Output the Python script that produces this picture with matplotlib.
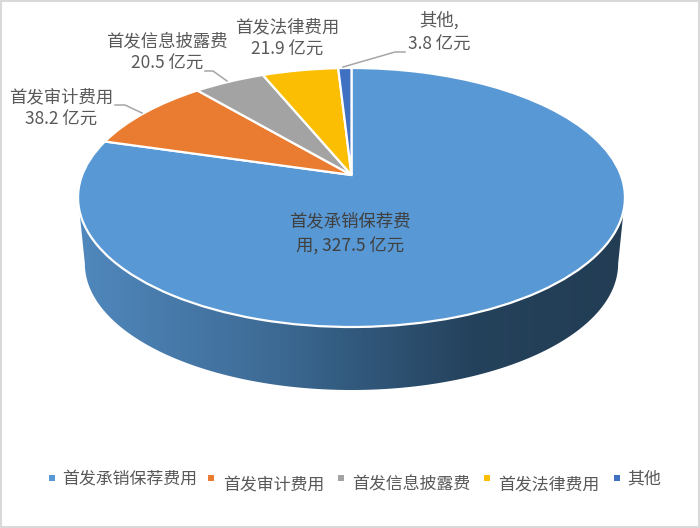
import numpy as np
import matplotlib
matplotlib.use("Agg")
import matplotlib.pyplot as plt
from matplotlib.colors import LinearSegmentedColormap
from matplotlib.patches import Polygon, Rectangle
from matplotlib.transforms import Transform

plt.rcParams['font.family'] = ['Noto Sans CJK SC', 'DejaVu Sans']

names = ['首发承销保荐费用', '首发审计费用', '首发信息披露费', '首发法律费用', '其他']
values = [327.5, 38.2, 20.5, 21.9, 3.8]
colors = ['#5898D4', '#E97C30', '#A3A3A3', '#FCBE02', '#4070C2']
unit = '亿元'

TEXT = '#595959'
LINE = '#A6A6A6'


class PiePerspective(Transform):
    # tilted disc: unit circle -> pixels, the far edge comes out smaller
    input_dims = 2
    output_dims = 2
    is_separable = False

    def __init__(self, cx=351.5, cy=175, a=269.3, b=125.6, k=0.1737, scale=1.0, drop=0):
        super().__init__()
        self.cx, self.cy, self.a, self.b, self.k = cx, cy, a, b, k
        self.scale, self.drop = scale, drop

    def transform_non_affine(self, values):
        u, v = values[:, 0], values[:, 1]
        w = 1 + self.k * v
        x = self.cx + self.scale * self.a * u / w
        y = self.cy + self.drop - self.scale * self.b * v / w
        return np.column_stack([x, y])


fig = plt.figure(figsize=(7, 5.28), dpi=100)
ax = fig.add_axes([0, 0, 1, 1])

top = PiePerspective()
bottom = PiePerspective(scale=0.975, drop=66.8)

# side wall, left extreme round the front to the right extreme
k = top.k
start = np.arctan2(-k, -np.sqrt(1 - k ** 2))
end = np.arctan2(-k, np.sqrt(1 - k ** 2))
t = np.linspace(start, end, 200)
rim = np.column_stack([np.cos(t), np.sin(t)])
outline = np.vstack([top.transform_non_affine(rim),
                     bottom.transform_non_affine(rim)[::-1]])

stops = [(0.0, '#5088BD'), (0.33, '#3F6D98'), (0.5, '#325A7E'),
         (0.72, '#25425C'), (1.0, '#223D54')]
wall_cmap = LinearSegmentedColormap.from_list('wall', stops)
img = ax.imshow(np.linspace(0, 1, 256).reshape(1, -1), cmap=wall_cmap, aspect='auto',
                extent=(78, 625, 395, 190), zorder=1)
wall = Polygon(outline, closed=True, transform=ax.transData, facecolor='none', edgecolor='none')
ax.add_patch(wall)
img.set_clip_path(wall)

wedges, _ = ax.pie(values, colors=colors, startangle=90, counterclock=False,
                   wedgeprops={'edgecolor': 'white', 'linewidth': 1.6})
for w in wedges:
    w.set_transform(top + ax.transData)
    w.set_zorder(2)

ax.set_aspect('auto')
ax.set_xlim(0, 700)
ax.set_ylim(528, 0)
ax.set_axis_off()

# data labels
ax.text(350, 234, f'首发承销保荐费\n用, {values[0]} {unit}', fontsize=12.5, color='#404040',
        ha='center', va='center', linespacing=1.45, zorder=3)
ax.text(61, 108.5, f'{names[1]}\n{values[1]} {unit}', fontsize=12.5, color=TEXT,
        ha='center', va='center', linespacing=1.3)
ax.text(167, 52.5, f'{names[2]}\n{values[2]} {unit}', fontsize=12.5, color=TEXT,
        ha='center', va='center', linespacing=1.3)
ax.text(287, 38.5, f'{names[3]}\n{values[3]} {unit}', fontsize=12.5, color=TEXT,
        ha='center', va='center', linespacing=1.3)
ax.text(439, 32.5, f'{names[4]},\n{values[4]} {unit}', fontsize=12.5, color=TEXT,
        ha='center', va='center', linespacing=1.4)

# leader lines
ax.plot([115, 125, 142], [105, 105, 113], color=LINE, lw=1.1)
ax.plot([205, 213, 227], [71, 71, 81], color=LINE, lw=1.1)
ax.plot([405, 395, 343], [52, 52, 67], color=LINE, lw=1.1)

# legend, the entries do not sit on one baseline in the original
marker_x = [52, 211, 341, 487, 617]
label_x = [62, 223, 352, 498, 627]
label_y = [478, 484, 484, 484, 478]
for name, color, mx, lx, ly in zip(names, colors, marker_x, label_x, label_y):
    ax.plot([mx], [478], marker='s', ms=4.3, color=color, mew=0, ls='none')
    ax.text(lx, ly, name, fontsize=12.2, color=TEXT, ha='left', va='center')

# chart border
ax.add_patch(Rectangle((1, 1), 698, 526, facecolor='none', edgecolor='#D9D9D9', lw=1.5))

fig.savefig('out.png', dpi=100)
